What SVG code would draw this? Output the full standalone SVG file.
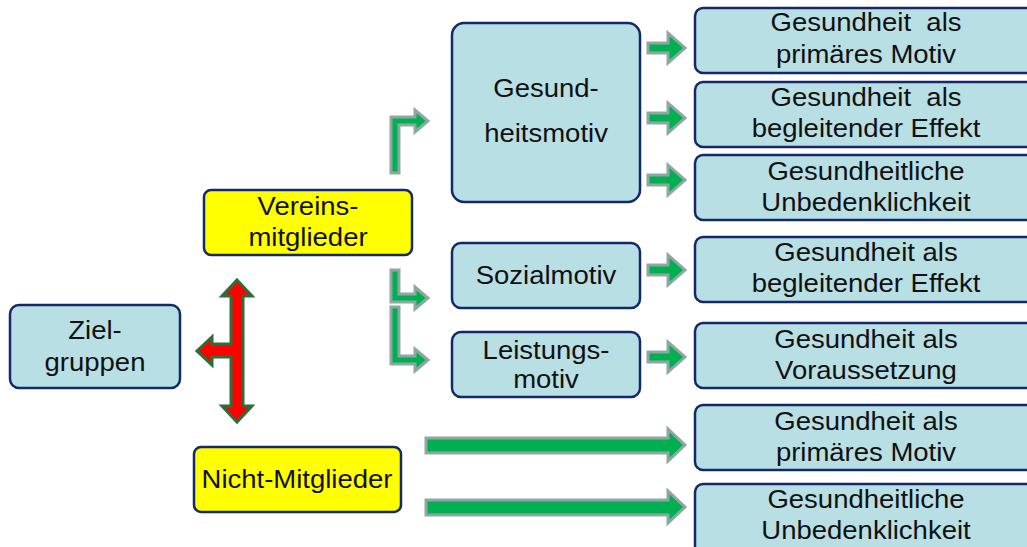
<svg xmlns="http://www.w3.org/2000/svg" width="1027" height="547" viewBox="0 0 1027 547">
<style>
.box{fill:#b8dfe3;stroke:#14286a;stroke-width:2.5}
.yel{fill:#ffff00;stroke:#14286a;stroke-width:2.5}
.t{font-family:"Liberation Sans",Arial,sans-serif;font-size:25px;fill:#111;text-anchor:middle}
.ga{fill:#00b050;stroke:#8fa6a4;stroke-width:3;stroke-linejoin:miter}
.ra{fill:#ff0000;stroke:#2b6e3a;stroke-width:3;stroke-linejoin:miter}
</style>
<rect width="1027" height="547" fill="#ffffff"/>
<g id="connectors">
<polygon class="ra" points="237,280 252,296 243,296 243,406 252,406 237,422 222,406 231,406 231,357 212,357 212,365 197,351 212,337 212,344 231,344 231,296 222,296"/>
<polygon class="ga" points="391,173 391,117 415,117 415,110 428,121 415,132 415,125 399,125 399,173"/>
<polygon class="ga" points="391,270 399,270 399,294 415,294 415,287 428,298 415,309 415,302 391,302"/>
<polygon class="ga" points="391,307 399,307 399,356 415,356 415,349 428,360 415,371 415,364 391,364"/>
<polygon class="ga" points="648,43 668,43 668,33 685,48 668,63 668,53 648,53"/>
<polygon class="ga" points="648,113 668,113 668,103 685,118 668,133 668,123 648,123"/>
<polygon class="ga" points="648,175 668,175 668,165 685,180 668,195 668,185 648,185"/>
<polygon class="ga" points="648,265 668,265 668,255 685,270 668,285 668,275 648,275"/>
<polygon class="ga" points="648,352 668,352 668,342 685,357 668,372 668,362 648,362"/>
<polygon class="ga" points="426,438 668,438 668,429 685,445 668,461 668,453 426,453"/>
<polygon class="ga" points="426,500 668,500 668,491 685,507 668,523 668,515 426,515"/>
</g>
<g id="zielgruppen">
<rect class="box" x="10" y="305" width="170" height="83" rx="9"/>
<text class="t" transform="translate(95,339) scale(1.1,1)">Ziel-</text>
<text class="t" transform="translate(95,371) scale(1.1,1)">gruppen</text>
</g>
<g id="vereinsmitglieder">
<rect class="yel" x="204" y="190" width="208" height="65" rx="7"/>
<text class="t" transform="translate(308,215) scale(1.1,1)">Vereins-</text>
<text class="t" transform="translate(308,246) scale(1.1,1)">mitglieder</text>
</g>
<g id="nicht-mitglieder">
<rect class="yel" x="194" y="447" width="207" height="65" rx="7"/>
<text class="t" transform="translate(297,488) scale(1.1,1)">Nicht-Mitglieder</text>
</g>
<g id="gesundheitsmotiv">
<rect class="box" x="452" y="23" width="188" height="179" rx="12"/>
<text class="t" transform="translate(546,97) scale(1.1,1)">Gesund-</text>
<text class="t" transform="translate(546,142) scale(1.1,1)">heitsmotiv</text>
</g>
<g id="sozialmotiv">
<rect class="box" x="452" y="243" width="188" height="65" rx="9"/>
<text class="t" transform="translate(546,284) scale(1.1,1)">Sozialmotiv</text>
</g>
<g id="leistungsmotiv">
<rect class="box" x="452" y="332" width="188" height="65" rx="9"/>
<text class="t" transform="translate(546,359) scale(1.1,1)">Leistungs-</text>
<text class="t" transform="translate(546,388) scale(1.1,1)">motiv</text>
</g>
<g id="r1">
<rect class="box" x="695" y="8" width="345" height="65" rx="8"/>
<text class="t" transform="translate(866,31) scale(1.1,1)">Gesundheit&#160; als</text>
<text class="t" transform="translate(866,63) scale(1.1,1)">primäres Motiv</text>
</g>
<g id="r2">
<rect class="box" x="695" y="82" width="345" height="65" rx="8"/>
<text class="t" transform="translate(866,106) scale(1.1,1)">Gesundheit&#160; als</text>
<text class="t" transform="translate(866,137) scale(1.1,1)">begleitender Effekt</text>
</g>
<g id="r3">
<rect class="box" x="695" y="155" width="345" height="65" rx="8"/>
<text class="t" transform="translate(866,180) scale(1.1,1)">Gesundheitliche</text>
<text class="t" transform="translate(866,211) scale(1.1,1)">Unbedenklichkeit</text>
</g>
<g id="r4">
<rect class="box" x="695" y="237" width="345" height="65" rx="8"/>
<text class="t" transform="translate(866,261) scale(1.1,1)">Gesundheit als</text>
<text class="t" transform="translate(866,292) scale(1.1,1)">begleitender Effekt</text>
</g>
<g id="r5">
<rect class="box" x="695" y="323" width="345" height="65" rx="8"/>
<text class="t" transform="translate(866,348) scale(1.1,1)">Gesundheit als</text>
<text class="t" transform="translate(866,379) scale(1.1,1)">Voraussetzung</text>
</g>
<g id="r6">
<rect class="box" x="695" y="405" width="345" height="65" rx="8"/>
<text class="t" transform="translate(866,430) scale(1.1,1)">Gesundheit als</text>
<text class="t" transform="translate(866,461) scale(1.1,1)">primäres Motiv</text>
</g>
<g id="r7">
<rect class="box" x="695" y="484" width="345" height="75" rx="8"/>
<text class="t" transform="translate(866,508) scale(1.1,1)">Gesundheitliche</text>
<text class="t" transform="translate(866,539) scale(1.1,1)">Unbedenklichkeit</text>
</g>
</svg>
